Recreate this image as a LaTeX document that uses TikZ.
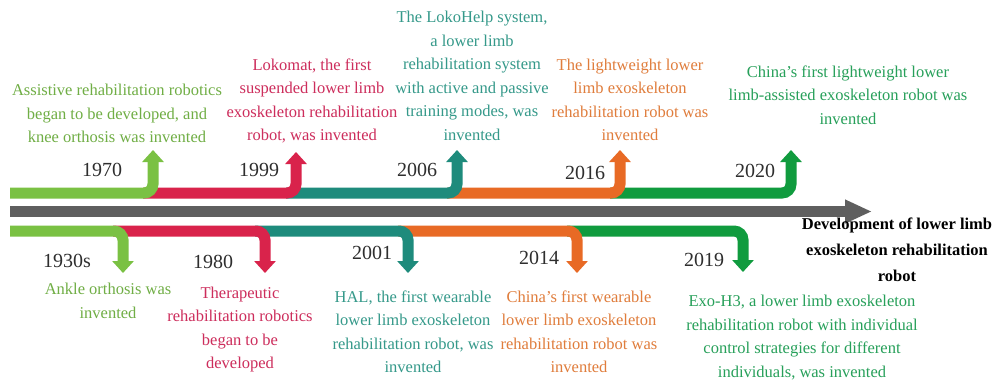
\documentclass[tikz,border=0pt]{standalone}
\usepackage{fontspec}
\setmainfont{Liberation Serif}
\usetikzlibrary{arrows.meta}

% ribbon colours (bands) and their text colours
\definecolor{lgreen}{HTML}{7AC143}
\definecolor{crimson}{HTML}{D9234B}
\definecolor{teal}{HTML}{1E8B7C}
\definecolor{orange}{HTML}{E86A25}
\definecolor{dgreen}{HTML}{109B3E}
\definecolor{lgreenT}{HTML}{70AE45}
\definecolor{crimsonT}{HTML}{CD2D5C}
\definecolor{tealT}{HTML}{35998A}
\definecolor{orangeT}{HTML}{E07D3C}
\definecolor{dgreenT}{HTML}{27A05A}
\definecolor{axisgray}{HTML}{5F5F5F}
\definecolor{yeargray}{HTML}{2E2E2E}

\begin{document}
\begin{tikzpicture}[
  x=1pt, y=-1pt,
  band/.style={line width=11pt, rounded corners=9pt,
               -{Triangle[length=12pt, width=21pt]}},
  axis/.style={line width=11pt, draw=axisgray,
               -{Triangle[length=27pt, width=22pt]}},
  desc/.style={align=center, inner sep=0pt,
               font=\fontsize{16.5}{23.5}\selectfont},
  year/.style={inner sep=0pt, text=yeargray,
               font=\fontsize{20}{24}\selectfont}
]
  \fill[white] (0,0) rectangle (994,384);
  \useasboundingbox (0,0) rectangle (994,384);

  % main time axis
  \coordinate (axisL) at (10,211.5);
  \coordinate (axisR) at (872,211.5);
  \draw[axis] (axisL) -- (axisR);

  % ribbon ends, upper row
  \coordinate (s1970) at (10,193);  \coordinate (t1970) at (153,150);
  \coordinate (s1999) at (143,193); \coordinate (t1999) at (296,152);
  \coordinate (s2006) at (286,193); \coordinate (t2006) at (457,150);
  \coordinate (s2016) at (447,193); \coordinate (t2016) at (620,150);
  \coordinate (s2020) at (610,193); \coordinate (t2020) at (791,150);
  % ribbon ends, lower row
  \coordinate (s1930) at (10,231);  \coordinate (t1930) at (123,273);
  \coordinate (s1980) at (113,231); \coordinate (t1980) at (265,273);
  \coordinate (s2001) at (255,231); \coordinate (t2001) at (408,273);
  \coordinate (s2014) at (398,231); \coordinate (t2014) at (577,273);
  \coordinate (s2019) at (567,231); \coordinate (t2019) at (743,272);

  % later ribbons go underneath the earlier ones
  \foreach \t/\c in {2020/dgreen, 2016/orange, 2006/teal, 1999/crimson, 1970/lgreen,
                     2019/dgreen, 2014/orange, 2001/teal, 1980/crimson, 1930/lgreen}
    \draw[band, \c] (s\t) -| (t\t);

  % years
  \node[year] (y1970) at (102,170) {1970};
  \node[year] (y1999) at (259,170) {1999};
  \node[year] (y2006) at (417,170) {2006};
  \node[year] (y2016) at (585,173) {2016};
  \node[year] (y2020) at (755,171) {2020};
  \node[year] (y1930) at (67,261) {1930s};
  \node[year] (y1980) at (213,262) {1980};
  \node[year] (y2001) at (372,253) {2001};
  \node[year] (y2014) at (539,258) {2014};
  \node[year] (y2019) at (704,260) {2019};

  % milestones above the axis
  \node[desc, text=lgreenT] (d1970) at (117,113.5)
    {Assistive rehabilitation robotics\\began to  be developed, and\\knee orthosis was invented};
  \node[desc, text=crimsonT] (d1999) at (312,101)
    {Lokomat, the first\\suspended lower limb\\exoskeleton rehabilitation\\robot, was invented};
  \node[desc, text=tealT] (d2006) at (472,76)
    {The LokoHelp system,\\a lower limb\\rehabilitation system\\with active and passive\\training modes, was\\invented};
  \node[desc, text=orangeT] (d2016) at (630,100)
    {The lightweight lower\\limb exoskeleton\\rehabilitation robot was\\invented};
  \node[desc, text=dgreenT] (d2020) at (848,95)
    {China's first lightweight lower\\limb-assisted exoskeleton robot was\\invented};

  % milestones below the axis
  \node[desc, text=lgreenT] (d1930) at (108,301)
    {Ankle orthosis was\\invented};
  \node[desc, text=crimsonT] (d1980) at (240,329.5)
    {Therapeutic\\rehabilitation robotics\\began to  be\\developed};
  \node[desc, text=tealT] (d2001) at (413,332)
    {HAL, the first wearable\\lower limb exoskeleton\\rehabilitation robot, was\\invented};
  \node[desc, text=orangeT] (d2014) at (579,332)
    {China's first wearable\\lower limb exoskeleton\\rehabilitation robot was\\invented};
  \node[desc, text=dgreenT] (d2019) at (802,337.5)
    {Exo-H3, a lower limb exoskeleton\\rehabilitation robot with individual\\control strategies for different\\individuals, was invented};

  % axis caption
  \node[align=center, inner sep=0pt, font=\fontsize{16.5}{26}\selectfont\bfseries]
    (title) at (897,250) {Development of lower limb\\exoskeleton rehabilitation\\robot};
\end{tikzpicture}
\end{document}
